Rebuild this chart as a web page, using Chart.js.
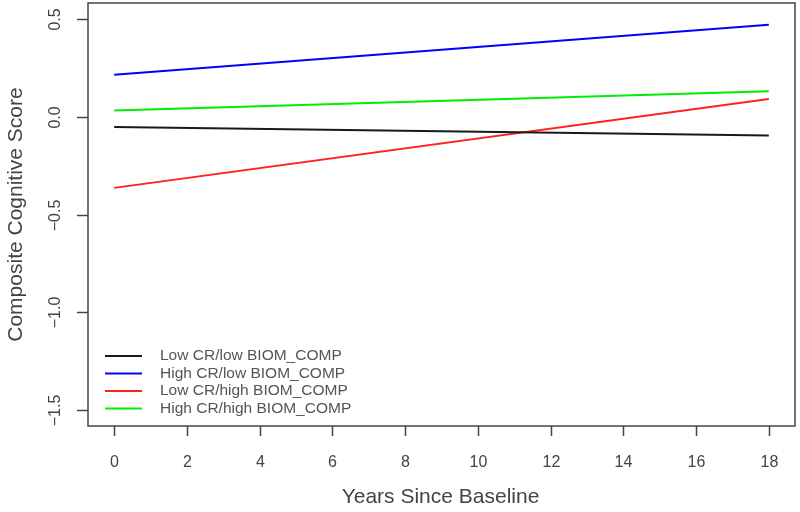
<!DOCTYPE html>
<html>
<head>
<meta charset="utf-8">
<script src="https://cdn.jsdelivr.net/npm/chart.js@4.4.1/dist/chart.umd.min.js"></script>
<style>
  html, body { margin: 0; padding: 0; background: #fff; }
  canvas { display: block; }
</style>
</head>
<body>
<canvas id="myChart" width="800" height="512"></canvas>
<script>
// years since baseline (start and end of each fitted line)
const years = [0, 18];
const lowCrLowBiom = [-0.053, -0.097];
const highCrLowBiom = [0.214, 0.469];
const lowCrHighBiom = [-0.364, 0.090];
const highCrHighBiom = [0.031, 0.129];

const seriesNames = ['Low CR/low BIOM_COMP', 'High CR/low BIOM_COMP', 'Low CR/high BIOM_COMP', 'High CR/high BIOM_COMP'];
const seriesColors = ['#1a1a1a', '#0000ff', '#ff2020', '#00ee00'];

const xTicks = [0, 2, 4, 6, 8, 10, 12, 14, 16, 18];
const yTicks = [0.5, 0.0, -0.5, -1.0, -1.5];
const yTickLabels = ['0.5', '0.0', '\u22120.5', '\u22121.0', '\u22121.5'];

const textColor = '#444';
const fontFam = '"Liberation Sans", Arial, sans-serif';

function toPoints(vals) {
    return years.map((x, i) => ({ x: x, y: vals[i] }));
}

// R-style box, ticks, axis labels and legend
const baseGraphics = {
    id: 'baseGraphics',
    afterDraw(chart) {
        const ctx = chart.ctx;
        const area = chart.chartArea;
        const xs = chart.scales.x;
        const ys = chart.scales.y;
        ctx.save();
        ctx.strokeStyle = '#444';
        ctx.lineWidth = 1.5;
        ctx.strokeRect(area.left, area.top, area.right - area.left, area.bottom - area.top);

        // x axis
        ctx.fillStyle = textColor;
        ctx.font = '16px ' + fontFam;
        ctx.textAlign = 'center';
        ctx.textBaseline = 'middle';
        xTicks.forEach(t => {
            const px = Math.round(xs.getPixelForValue(t)) + 0.5;
            ctx.beginPath();
            ctx.moveTo(px, area.bottom);
            ctx.lineTo(px, area.bottom + 10);
            ctx.stroke();
            ctx.fillText(String(t), px, 463);
        });

        // y axis
        yTicks.forEach((t, i) => {
            const py = Math.round(ys.getPixelForValue(t)) + 0.5;
            ctx.beginPath();
            ctx.moveTo(area.left, py);
            ctx.lineTo(area.left - 11, py);
            ctx.stroke();
            ctx.save();
            ctx.translate(56, py);
            ctx.rotate(-Math.PI / 2);
            ctx.fillText(yTickLabels[i], 0, 0);
            ctx.restore();
        });

        // axis titles
        ctx.font = '21px ' + fontFam;
        ctx.fillText('Years Since Baseline', (area.left + area.right) / 2 - 1, 497);
        ctx.save();
        ctx.translate(16, (area.top + area.bottom) / 2);
        ctx.rotate(-Math.PI / 2);
        ctx.fillText('Composite Cognitive Score', 0, 0);
        ctx.restore();

        // legend (no box)
        ctx.font = '15.5px ' + fontFam;
        ctx.textAlign = 'left';
        ctx.lineWidth = 2;
        const rowY = [356, 373.5, 391, 408.5];
        seriesNames.forEach((name, i) => {
            ctx.strokeStyle = seriesColors[i];
            ctx.beginPath();
            ctx.moveTo(105, rowY[i]);
            ctx.lineTo(142, rowY[i]);
            ctx.stroke();
            ctx.fillStyle = '#555';
            ctx.fillText(name, 160, rowY[i]);
        });
        ctx.restore();
    }
};

const allSeries = [lowCrLowBiom, highCrLowBiom, lowCrHighBiom, highCrHighBiom];

const ctx = document.getElementById('myChart').getContext('2d');
const myChart = new Chart(ctx, {
    type: 'line',
    data: {
        datasets: allSeries.map((vals, i) => ({
            label: seriesNames[i],
            data: toPoints(vals),
            borderColor: seriesColors[i],
            borderWidth: 2,
            pointRadius: 0,
            fill: false,
            tension: 0
        }))
    },
    options: {
        responsive: false,
        animation: false,
        layout: {
            padding: { left: 88, top: 3, right: 5, bottom: 86 }
        },
        scales: {
            x: { type: 'linear', min: -0.72, max: 18.72, display: false },
            y: { type: 'linear', min: -1.58, max: 0.58, display: false }
        },
        plugins: {
            legend: { display: false },
            tooltip: { enabled: false }
        }
    },
    plugins: [baseGraphics]
});
</script>
</body>
</html>
